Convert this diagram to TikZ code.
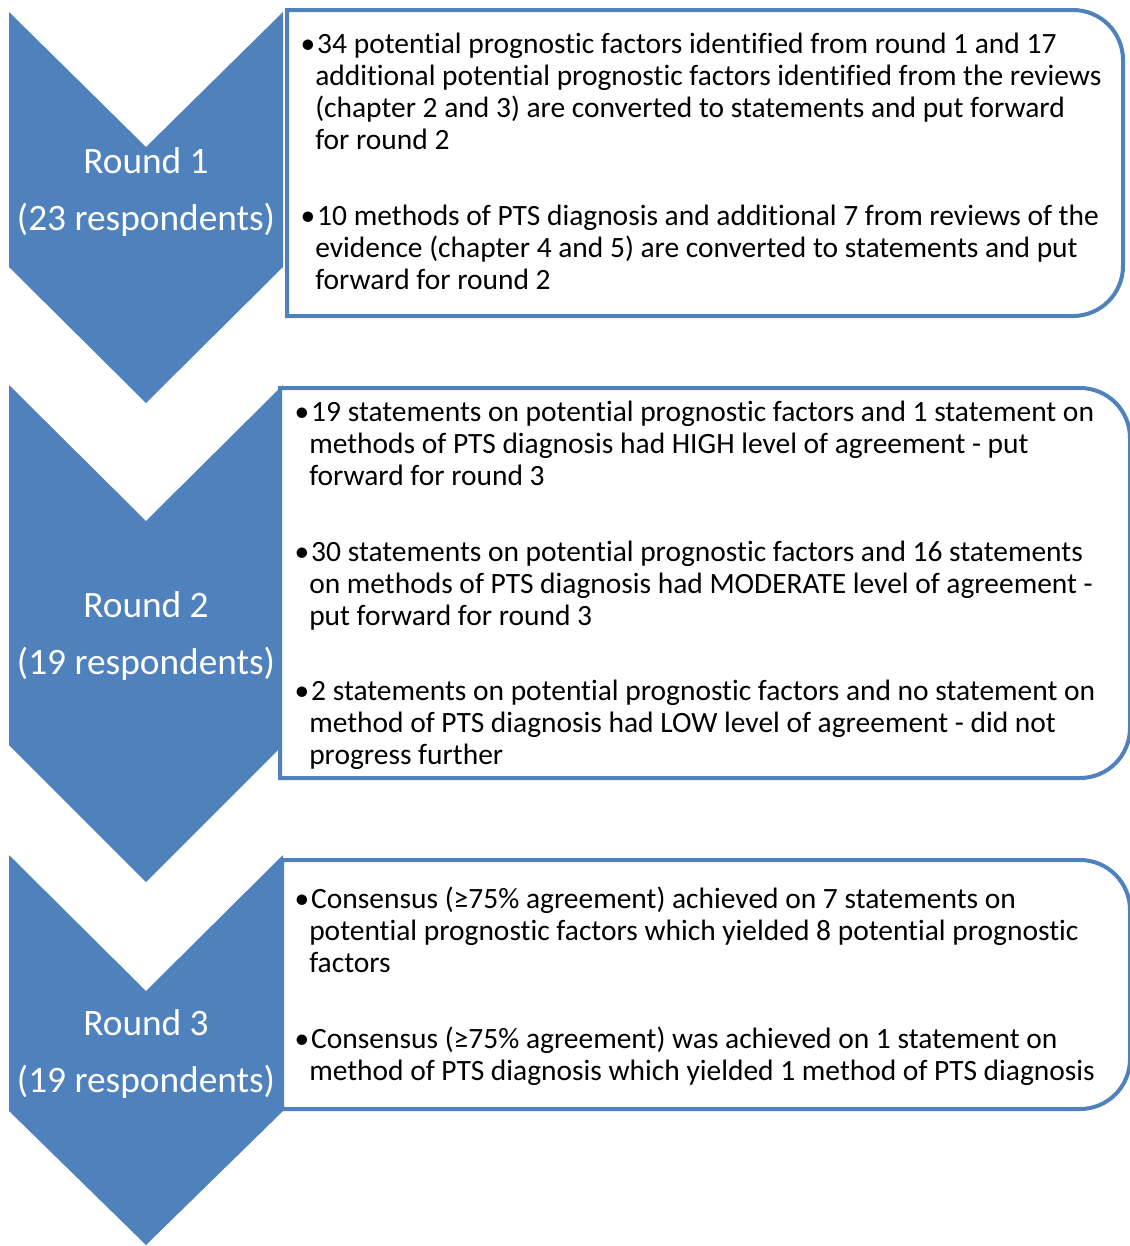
\documentclass[tikz,border=0pt]{standalone}
\usepackage{fontspec}
\setmainfont{Carlito}[Ligatures=CommonOff]
\definecolor{accent}{HTML}{4F81BD}
\newcommand{\lines}[1]{\begin{tabular}[t]{@{}l@{}}#1\end{tabular}}
\newcommand{\bl}{\llap{•}\hspace{1.5pt}}
\tikzset{
  chev/.style={fill=accent, draw=none},
  panel/.style={draw=accent, line width=3pt, fill=white},
  roundlbl/.style={text=white, font=\fontsize{28pt}{34pt}\selectfont, inner sep=0pt, anchor=base},
  para/.style={font=\fontsize{22.1pt}{24pt}\selectfont, inner sep=0pt, anchor=base west},
}
\begin{document}
\begin{tikzpicture}[x=0.75pt, y=0.75pt]
  \useasboundingbox (0,0) rectangle (1130,-1246);
  \clip (0,0) rectangle (1130,-1246);

  % chevrons
  \fill[chev] (9,-12) -- (146,-147) -- (283,-12) -- (283,-267) -- (146,-403) -- (9,-267) -- cycle;
  \fill[chev] (9,-385) -- (146,-521) -- (283,-385) -- (283,-745) -- (146,-882) -- (9,-745) -- cycle;
  \fill[chev] (9,-855) -- (146,-991) -- (283,-855) -- (283,-1111) -- (146,-1245) -- (9,-1111) -- cycle;

  % text panels, rounded on the right only
  \draw[panel] (287,-10) -- (1073,-10) arc[start angle=90, end angle=0, radius=50]
    -- (1123,-266) arc[start angle=0, end angle=-90, radius=50] -- (287,-316) -- cycle;
  \draw[panel] (280,-388) -- (1080,-388) arc[start angle=90, end angle=0, radius=50]
    -- (1130,-728) arc[start angle=0, end angle=-90, radius=50] -- (280,-778) -- cycle;
  \draw[panel] (282,-860) -- (1080,-860) arc[start angle=90, end angle=0, radius=50]
    -- (1130,-1059) arc[start angle=0, end angle=-90, radius=50] -- (282,-1109) -- cycle;

  % round labels
  \node[roundlbl] (r1a) at (146,-173) {Round 1};
  \node[roundlbl] (r1b) at (146,-230) {(23 respondents)};
  \node[roundlbl] (r2a) at (146,-617) {Round 2};
  \node[roundlbl] (r2b) at (146,-674) {(19 respondents)};
  \node[roundlbl] (r3a) at (146,-1035) {Round 3};
  \node[roundlbl] (r3b) at (146,-1092) {(19 respondents)};

  % round 1 outcomes
  \node[para] (p1a) at (315,-53) {\lines{\bl 34 potential prognostic factors identified from round 1 and 17\\
    additional potential prognostic factors identified from the reviews\\
    (chapter 2 and 3) are converted to statements and put forward\\
    for round 2}};
  \node[para] (p1b) at (315,-225) {\lines{\bl 10 methods of PTS diagnosis and additional 7 from reviews of the\\
    evidence (chapter 4 and 5) are converted to statements and put\\
    forward for round 2}};

  % round 2 outcomes
  \node[para] (p2a) at (309,-421) {\lines{\bl 19 statements on potential prognostic factors and 1 statement on\\
    methods of PTS diagnosis had HIGH level of agreement - put\\
    forward for round 3}};
  \node[para] (p2b) at (309,-561) {\lines{\bl 30 statements on potential prognostic factors and 16 statements\\
    on methods of PTS diagnosis had MODERATE level of agreement -\\
    put forward for round 3}};
  \node[para] (p2c) at (309,-700) {\lines{\bl 2 statements on potential prognostic factors and no statement on\\
    method of PTS diagnosis had LOW level of agreement - did not\\
    progress further}};

  % round 3 outcomes
  \node[para] (p3a) at (309,-908) {\lines{\bl Consensus (≥75\% agreement) achieved on 7 statements on\\
    potential prognostic factors which yielded 8 potential prognostic\\
    factors}};
  \node[para] (p3b) at (309,-1048) {\lines{\bl Consensus (≥75\% agreement) was achieved on 1 statement on\\
    method of PTS diagnosis which yielded 1 method of PTS diagnosis}};
\end{tikzpicture}
\end{document}
